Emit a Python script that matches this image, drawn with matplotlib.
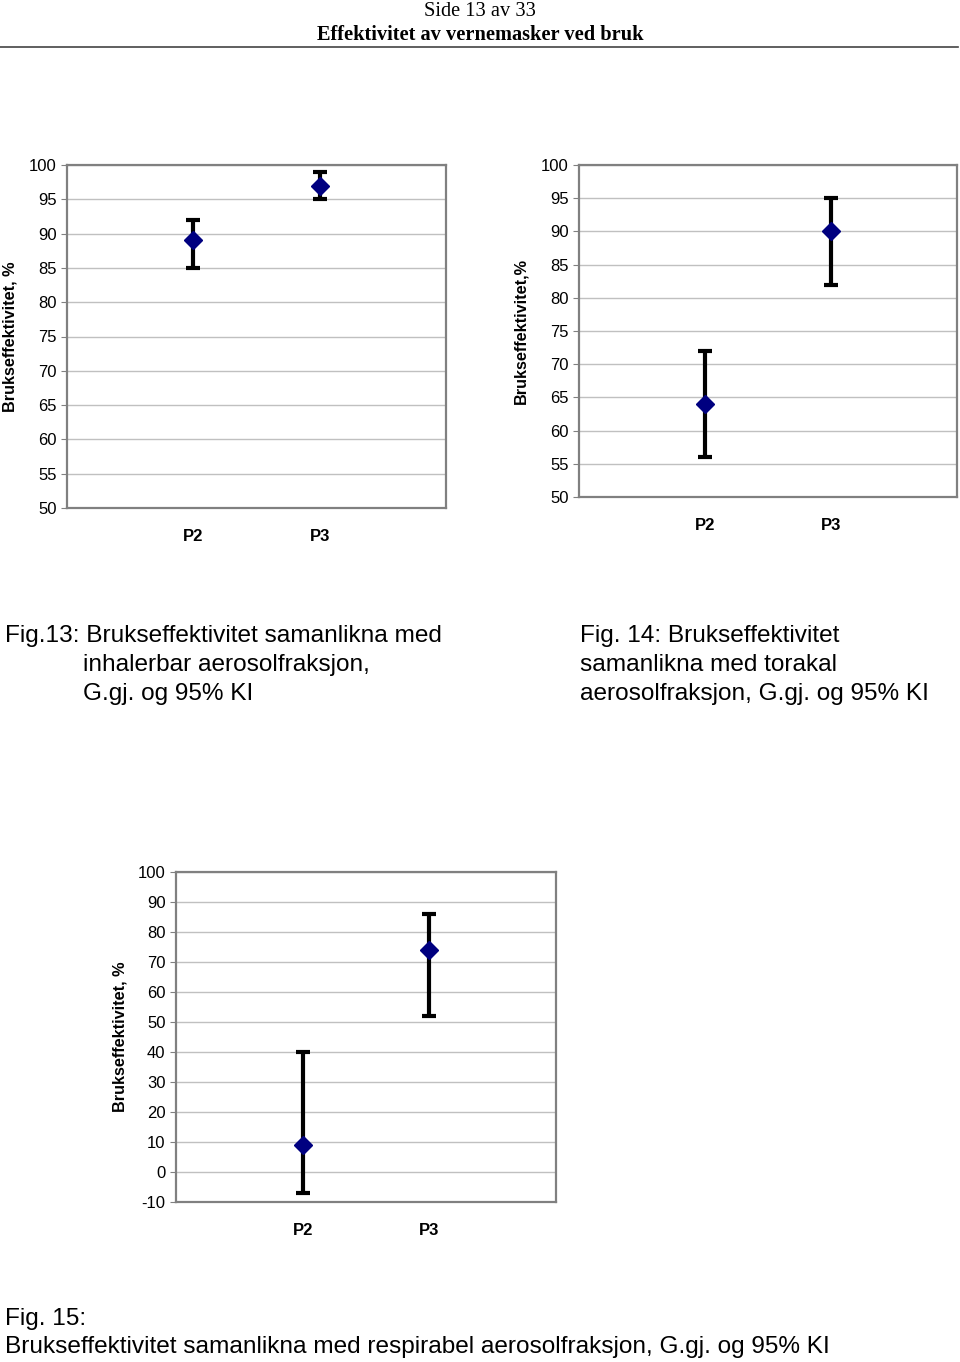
import matplotlib
matplotlib.use("Agg")
import matplotlib.pyplot as plt

plt.rcParams["axes.unicode_minus"] = False

# data
categories = ["P2", "P3"]

fig13_mean = [89, 97]
fig13_low = [85, 95]
fig13_high = [92, 99]

fig14_mean = [64, 90]
fig14_low = [56, 82]
fig14_high = [72, 95]

fig15_mean = [9, 74]
fig15_low = [-7, 52]
fig15_high = [40, 86]

W, H = 960, 1362
FONT = ["Liberation Sans", "Arial", "DejaVu Sans"]
NAVY = "#000080"
GRID = "#C0C0C0"
FRAME = "#808080"

fig = plt.figure(figsize=(W / 100, H / 100), dpi=100, facecolor="white")


def px_axes(left, top, right, bottom):
    return fig.add_axes([left / W, 1 - bottom / H, (right - left) / W, (bottom - top) / H])


def panel(ax, mean, low, high, ylim, step, ylabel):
    x = [1, 2]
    err = [[m - l for m, l in zip(mean, low)], [h - m for m, h in zip(mean, high)]]
    ax.errorbar(x, mean, yerr=err, fmt="none", ecolor="black", elinewidth=3,
                capsize=5, capthick=3, zorder=3)
    ax.plot(x, mean, linestyle="none", marker="D", markersize=9.5,
            color=NAVY, markeredgecolor=NAVY, zorder=4)
    ax.set_xlim(0, 3)
    ax.set_ylim(*ylim)
    ax.set_yticks(range(ylim[0], ylim[1] + 1, step))
    ax.yaxis.grid(True, color=GRID, linewidth=1)
    ax.set_axisbelow(True)
    ax.set_xticks(x)
    ax.set_xticklabels(categories, fontsize=12, fontweight="bold", family=FONT)
    ax.tick_params(axis="x", length=0, pad=15)
    ax.tick_params(axis="y", length=4, color=FRAME, pad=3.5, labelsize=12)
    for lab in ax.get_yticklabels():
        lab.set_family(FONT)
    for s in ax.spines.values():
        s.set_color(FRAME)
        s.set_linewidth(1.6)
    ax.set_ylabel(ylabel, fontsize=11.7, fontweight="bold", family=FONT, va="center")


ax13 = px_axes(67, 165, 446, 508)
panel(ax13, fig13_mean, fig13_low, fig13_high, (50, 100), 5, "Brukseffektivitet, %")
ax13.yaxis.set_label_coords((10 - 67) / (446 - 67), 0.5)

ax14 = px_axes(579, 165, 957, 497)
panel(ax14, fig14_mean, fig14_low, fig14_high, (50, 100), 5, "Brukseffektivitet,%")
ax14.yaxis.set_label_coords((521 - 579) / (957 - 579), 0.5)

ax15 = px_axes(176, 872, 556, 1202)
panel(ax15, fig15_mean, fig15_low, fig15_high, (-10, 100), 10, "Brukseffektivitet, %")
ax15.yaxis.set_label_coords((120 - 176) / (556 - 176), 0.5)


def txt(xpx, ypx, s, **kw):
    fig.text(xpx / W, 1 - ypx / H, s, va="center", **kw)


# page header
serif = ["Liberation Serif", "DejaVu Serif"]
txt(480, 12, "Side 13 av 33", ha="center", fontsize=14.7, family=serif)
txt(480, 35, "Effektivitet av vernemasker ved bruk", ha="center", fontsize=14.7,
    fontweight="bold", family=serif)
fig.add_artist(plt.Line2D([0, 958 / W], [1 - 47 / H, 1 - 47 / H], color="#444444",
                          linewidth=1.2, transform=fig.transFigure))

# captions
cap = dict(fontsize=17.6, family=FONT, ha="left")
txt(5, 636, "Fig.13: Brukseffektivitet samanlikna med", **cap)
txt(83, 665, "inhalerbar aerosolfraksjon,", **cap)
txt(83, 694, "G.gj. og 95% KI", **cap)

txt(580, 636, "Fig. 14: Brukseffektivitet", **cap)
txt(580, 665, "samanlikna med torakal", **cap)
txt(580, 694, "aerosolfraksjon, G.gj. og 95% KI", **cap)

txt(5, 1319, "Fig. 15:", **cap)
txt(5, 1347, "Brukseffektivitet samanlikna med respirabel aerosolfraksjon, G.gj. og 95% KI", **cap)

fig.savefig("out.png", dpi=100, facecolor="white")
